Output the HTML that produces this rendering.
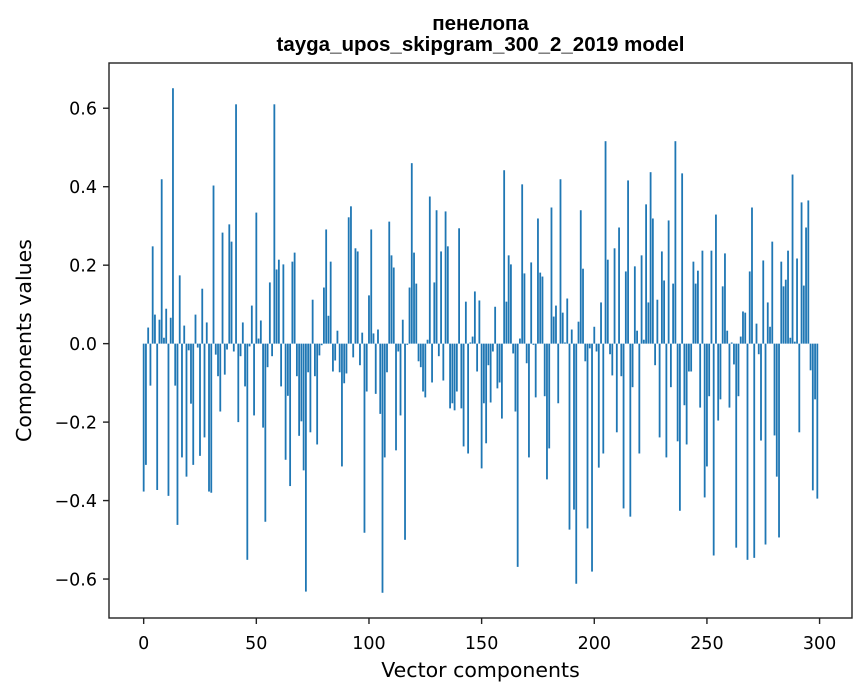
<!DOCTYPE html>
<html><head><meta charset="utf-8"><style>
html,body{margin:0;padding:0;background:#fff;width:867px;height:696px;overflow:hidden}
svg{display:block;font-family:"DejaVu Sans","Liberation Sans",sans-serif}
</style></head><body>
<svg id="chart" width="867" height="696" xmlns="http://www.w3.org/2000/svg"></svg>
<script>
const values = [-0.377,-0.309,0.041,-0.107,0.248,0.074,-0.373,0.061,0.419,0.015,
0.089,-0.388,0.066,0.651,-0.107,-0.462,0.174,-0.29,0.046,-0.339,
-0.017,-0.153,-0.309,0.074,-0.01,-0.286,0.14,-0.239,0.054,-0.377,
-0.38,0.403,-0.028,-0.083,-0.173,0.283,-0.079,-0.015,0.304,0.26,
-0.02,0.61,-0.2,-0.032,0.054,-0.109,-0.551,-0.007,0.097,-0.183,
0.334,0.013,0.059,-0.214,-0.454,-0.06,0.156,-0.032,0.61,0.189,
0.214,-0.109,0.202,-0.296,-0.133,-0.363,0.209,0.232,-0.083,-0.235,
-0.198,-0.323,-0.632,-0.073,-0.226,0.112,-0.083,-0.257,-0.03,-0.004,
0.143,0.291,0.071,0.209,-0.071,-0.043,0.033,-0.073,-0.313,-0.101,
-0.076,0.322,0.35,-0.035,0.243,0.235,-0.055,0.028,-0.482,-0.122,
0.123,0.291,0.026,-0.128,0.036,-0.179,-0.635,-0.29,-0.073,0.311,
0.225,0.194,-0.272,-0.02,-0.183,0.061,-0.5,-0.003,0.143,0.46,
0.232,0.153,-0.045,-0.06,-0.122,-0.137,0.01,0.375,-0.099,0.156,
0.34,-0.032,0.235,-0.094,0.337,0.248,-0.165,-0.152,-0.17,-0.122,
0.294,-0.165,-0.262,0.107,-0.28,0.003,0.018,0.133,-0.071,0.11,
-0.318,-0.152,-0.254,-0.055,-0.15,-0.02,0.094,-0.114,-0.099,-0.191,
0.442,0.107,0.225,0.202,-0.025,-0.173,-0.569,0.013,0.406,0.179,
-0.05,-0.29,0.207,-0.003,-0.137,0.319,0.181,0.171,-0.134,-0.346,
-0.267,0.347,0.069,0.097,-0.152,0.419,0.079,0.003,0.115,-0.474,
0.036,-0.423,-0.612,0.056,0.34,0.191,-0.045,-0.471,-0.012,-0.581,
0.043,-0.02,-0.316,0.105,-0.28,0.516,0.214,-0.027,-0.081,0.243,
-0.226,0.296,-0.083,-0.42,0.184,0.416,-0.441,-0.111,0.197,0.033,
-0.28,0.225,0.01,0.355,0.105,0.437,0.319,-0.055,0.112,-0.239,
0.235,0.161,-0.29,0.314,-0.111,0.153,0.516,-0.249,-0.426,0.434,
-0.157,-0.257,-0.071,-0.071,0.209,0.153,0.186,-0.163,0.237,-0.392,
-0.313,-0.134,0.237,-0.54,0.329,-0.196,-0.142,0.146,0.23,0.033,
-0.163,0.003,-0.053,-0.52,-0.134,0.018,0.082,0.079,-0.551,0.184,
0.347,-0.546,0.051,-0.027,-0.247,0.212,-0.512,0.105,0.043,0.26,
-0.234,-0.339,-0.494,0.209,0.146,0.163,0.237,0.015,0.431,0.005,
0.217,-0.226,0.36,0.148,0.296,0.365,-0.068,-0.374,-0.142,-0.395];
const xTicks = [0,50,100,150,200,250,300];
const yTicks = [-0.6,-0.4,-0.2,0.0,0.2,0.4,0.6];

const NS = "http://www.w3.org/2000/svg";
const svg = document.getElementById('chart');
const L=109,R=852,T=63,B=618;
const n=values.length;
const xlo=-0.4, xhi=n-1+0.4, xm=(xhi-xlo)*0.05;
const x0=xlo-xm, x1=xhi+xm;
const vmin=Math.min(0,...values), vmax=Math.max(0,...values), ym=(vmax-vmin)*0.05;
const y0=vmin-ym, y1=vmax+ym;
const xs=v=>L+(v-x0)/(x1-x0)*(R-L);
const ys=v=>B-(v-y0)/(y1-y0)*(B-T);
function mk(tag,attrs,parent){const e=document.createElementNS(NS,tag);for(const k in attrs)e.setAttribute(k,attrs[k]);(parent||svg).appendChild(e);return e;}

const bars=mk('g',{});


values.forEach((v,i)=>{
  const a=xs(i-0.4), b=xs(i+0.4);
  const r=mk('rect',{x:a,y:Math.min(ys(v),ys(0)),width:b-a,height:Math.abs(ys(v)-ys(0)),fill:'#1f77b4'},bars);
  
  
});

const frame=mk('rect',{x:L,y:T,width:R-L,height:B-T,fill:'none',stroke:'#222','stroke-width':1.4});



xTicks.forEach(t=>{
  const x=xs(t);
  const tk=mk('line',{x1:x,x2:x,y1:B,y2:B+6,stroke:'#222','stroke-width':1.4});
  
  
  const tx=mk('text',{x:x,y:B+31,'text-anchor':'middle','font-size':17.5});
  tx.textContent=String(t);
  
  
});
yTicks.forEach(t=>{
  const y=ys(t);
  const tk=mk('line',{x1:L-6,x2:L,y1:y,y2:y,stroke:'#222','stroke-width':1.4});
  
  
  const tx=mk('text',{x:L-12,y:y+6.5,'text-anchor':'end','font-size':17.5});
  tx.textContent=(t<0?'\u2212':'')+Math.abs(t).toFixed(1);
  
  
});

const xl=mk('text',{x:(L+R)/2,y:677,'text-anchor':'middle','font-size':20.5});
xl.textContent='Vector components';


const yl=mk('text',{x:0,y:0,'text-anchor':'middle','font-size':20.5,transform:'translate(31,'+((T+B)/2)+') rotate(-90)'});
yl.textContent='Components values';


const t1=mk('text',{x:(L+R)/2,y:30,'text-anchor':'middle','font-size':20.5,'font-weight':'bold','font-family':'Liberation Sans, sans-serif'});
t1.textContent='пенелопа';


const t2=mk('text',{x:(L+R)/2,y:51,'text-anchor':'middle','font-size':20.5,'font-weight':'bold','font-family':'Liberation Sans, sans-serif'});
t2.textContent='tayga_upos_skipgram_300_2_2019 model';


</script>
</body></html>
